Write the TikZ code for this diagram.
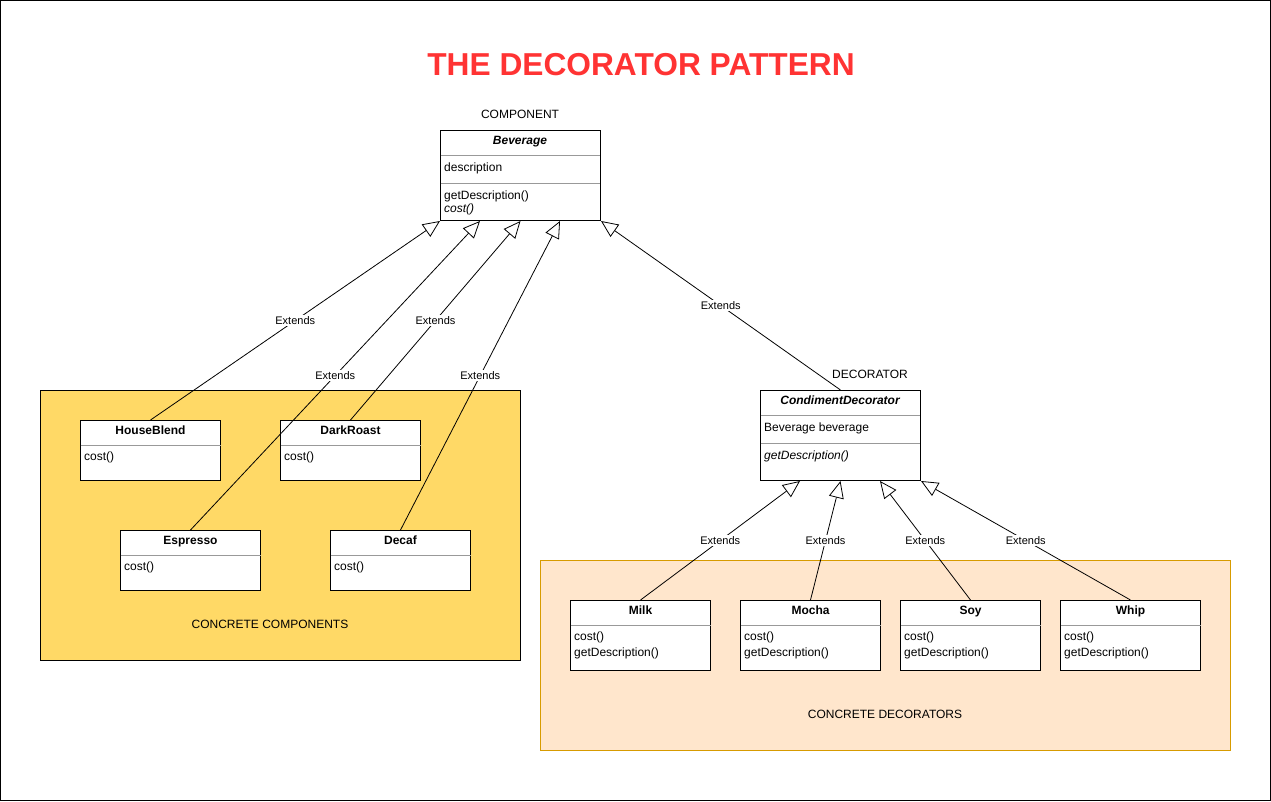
\documentclass[tikz,border=0pt]{standalone}
\usepackage{fontspec}
\setmainfont{Liberation Sans}
\usetikzlibrary{arrows.meta,calc}
\definecolor{titlered}{HTML}{FF3333}
\definecolor{ccfill}{HTML}{FFD966}
\definecolor{cdfill}{HTML}{FFE6CC}
\definecolor{cdline}{HTML}{D79B00}
\definecolor{sepgray}{HTML}{999999}
\tikzset{
  px/.style={font=\fontsize{12}{14}\selectfont, text height=9pt, text depth=2.6pt},
  lbl/.style={font=\fontsize{11}{13}\selectfont, fill=white, inner sep=1pt},
  clsbox/.style={draw=black, fill=white, line width=1pt, inner sep=0pt, anchor=north west},
  sep/.style={draw=sepgray, line width=1pt},
  ctext/.style={px, inner sep=0pt, anchor=west},
  hdr/.style={px, inner sep=0pt, font=\fontsize{12}{14}\selectfont\bfseries},
  ext/.style={draw=black, line width=0.8pt, -{Triangle[length=17pt,width=15pt,fill=white,line width=0.8pt]}},
}
\begin{document}
\begin{tikzpicture}[x=1pt,y=-1pt]
\useasboundingbox (0,0) rectangle (1271,801);
\draw[line width=1pt] (0.5,0.5) rectangle (1270.5,800.5);

% title
\node[font=\fontsize{31.7}{36}\selectfont\bfseries, text=titlered, inner sep=0] (title) at (641,65) {THE DECORATOR PATTERN};

% containers
\node[draw=black, fill=ccfill, line width=1pt, minimum width=480pt, minimum height=270pt, anchor=north west, inner sep=0] (ccbox) at (40,390) {};
\node[px, inner sep=0] (cclbl) at (270,625) {CONCRETE COMPONENTS};
\node[draw=cdline, fill=cdfill, line width=1pt, minimum width=690pt, minimum height=190pt, anchor=north west, inner sep=0] (cdbox) at (540,560) {};
\node[px, inner sep=0] (cdlbl) at (885,715) {CONCRETE DECORATORS};

% Beverage
\node[px, inner sep=0] (complbl) at (520,115) {COMPONENT};
\node[clsbox, minimum width=160pt, minimum height=90pt] (bev) at (440,130) {};
\draw[sep] (440.5,155) -- (599.5,155);
\draw[sep] (440.5,183) -- (599.5,183);
\node[hdr, font=\fontsize{12}{14}\selectfont\bfseries\itshape] (bevh) at (520,141.5) {Beverage};
\node[ctext] (beva) at (444,168) {description};
\node[ctext] (bevm1) at (444,196) {getDescription()};
\node[ctext, font=\fontsize{12}{14}\selectfont\itshape] (bevm2) at (444,209) {cost()};

% concrete components
\foreach \n/\t/\x/\y in {hb/HouseBlend/80/420, dr/DarkRoast/280/420, es/Espresso/120/530, dc/Decaf/330/530}{
  \node[clsbox, minimum width=140pt, minimum height=60pt] (\n) at (\x,\y) {};
  \draw[sep] ($(\n.north west)+(0.5,25)$) -- ($(\n.north east)+(-0.5,25)$);
  \node[hdr] (\n h) at ($(\n.north)+(0,11.5)$) {\t};
  \node[ctext] (\n m) at ($(\n.north west)+(4,37.5)$) {cost()};
}

% CondimentDecorator
\node[px, inner sep=0] (declbl) at (870,375) {DECORATOR};
\node[clsbox, minimum width=160pt, minimum height=90pt] (cd) at (760,390) {};
\draw[sep] (760.5,415) -- (919.5,415);
\draw[sep] (760.5,443) -- (919.5,443);
\node[hdr, font=\fontsize{12}{14}\selectfont\bfseries\itshape] (cdh) at (840,401.5) {CondimentDecorator};
\node[ctext] (cda) at (764,428) {Beverage beverage};
\node[ctext, font=\fontsize{12}{14}\selectfont\itshape] (cdm) at (764,456) {getDescription()};

% concrete decorators
\foreach \n/\t/\x in {mi/Milk/570, mo/Mocha/740, so/Soy/900, wh/Whip/1060}{
  \node[clsbox, minimum width=140pt, minimum height=70pt] (\n) at (\x,600) {};
  \draw[sep] ($(\n.north west)+(0.5,25)$) -- ($(\n.north east)+(-0.5,25)$);
  \node[hdr] (\n h) at ($(\n.north)+(0,11.5)$) {\t};
  \node[ctext] (\n m1) at ($(\n.north west)+(4,37.5)$) {cost()};
  \node[ctext] (\n m2) at ($(\n.north west)+(4,53.5)$) {getDescription()};
}

% connectors
\draw[ext] (hb.north) -- node[lbl] {Extends} (bev.south west);
\draw[ext] (es.north) -- node[lbl] {Extends} ($(bev.south west)+(40,0)$);
\draw[ext] (dr.north) -- node[lbl] {Extends} (bev.south);
\draw[ext] (dc.north) -- node[lbl] {Extends} ($(bev.south west)+(120,0)$);
\draw[ext] (cd.north) -- node[lbl] {Extends} (bev.south east);

\draw[ext] (mi.north) -- node[lbl] {Extends} ($(cd.south west)+(40,0)$);
\draw[ext] (mo.north) -- node[lbl] {Extends} (cd.south);
\draw[ext] (so.north) -- node[lbl] {Extends} ($(cd.south west)+(120,0)$);
\draw[ext] (wh.north) -- node[lbl] {Extends} (cd.south east);
\end{tikzpicture}
\end{document}
